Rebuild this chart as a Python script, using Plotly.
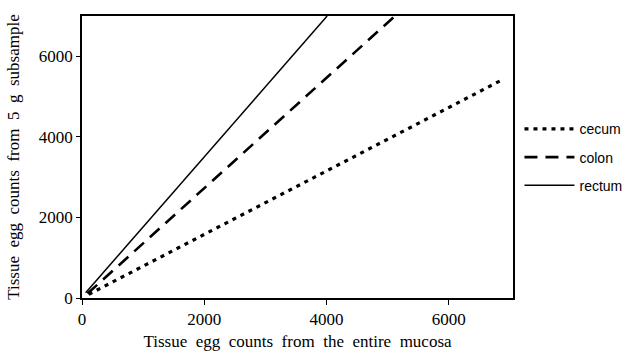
import plotly.graph_objects as go

series_names = ["cecum", "colon", "rectum"]
cecum_x = [110, 6840]
cecum_y = [90, 5390]
colon_x = [90, 5120]
colon_y = [110, 7000]
rectum_x = [60, 4010]
rectum_y = [130, 7000]

x_ticks = [0, 2000, 4000, 6000]
y_ticks = [0, 2000, 4000, 6000]

fig = go.Figure()
styles = {
    "cecum": dict(dash="4px,5px", width=3.2),
    "colon": dict(dash="13px,8px", width=2.6),
    "rectum": dict(dash="solid", width=1.5),
}
data = {"cecum": (cecum_x, cecum_y), "colon": (colon_x, colon_y), "rectum": (rectum_x, rectum_y)}
for name in series_names:
    xs, ys = data[name]
    fig.add_trace(go.Scatter(
        x=xs, y=ys, mode="lines", name=name, legendgroup=name,
        line=dict(color="black", **styles[name]),
    ))

serif = "Liberation Serif, Times New Roman, serif"
fig.update_layout(
    width=627, height=351,
    margin=dict(l=82, r=114, t=16, b=53, autoexpand=False),
    paper_bgcolor="white", plot_bgcolor="white",
    showlegend=True,
    legend=dict(
        x=1.015, y=0.655, xanchor="left", yanchor="top",
        font=dict(family="Liberation Sans, Arial, sans-serif", size=14, color="black"),
        tracegroupgap=7, itemwidth=50, bgcolor="rgba(0,0,0,0)",
    ),
    xaxis=dict(
        range=[0, 7050], tickvals=x_ticks, ticktext=[str(v) for v in x_ticks],
        showgrid=False, zeroline=False, showline=True, linecolor="black", linewidth=1.5,
        mirror=True, ticks="outside", ticklen=5, tickcolor="black", tickwidth=1.2,
        tickfont=dict(family=serif, size=17, color="black"), automargin=False,
        title=dict(text="Tissue\u00a0 egg\u00a0 counts\u00a0 from\u00a0 the\u00a0 entire\u00a0 mucosa",
                   font=dict(family=serif, size=17, color="black")),
    ),
    yaxis=dict(
        range=[0, 7000], tickvals=y_ticks, ticktext=[str(v) for v in y_ticks],
        showgrid=False, zeroline=False, showline=True, linecolor="black", linewidth=1.5,
        mirror=True, ticks="outside", ticklen=4, tickcolor="black", tickwidth=1.2,
        tickfont=dict(family=serif, size=17, color="black"), automargin=False,
        title=dict(text="Tissue\u00a0 egg\u00a0 counts\u00a0 from\u00a0 5\u00a0 g\u00a0 subsample",
                   font=dict(family=serif, size=17, color="black")),
    ),
)

fig.write_html("out.html", config={"displayModeBar": False},
               post_script="document.body.style.margin='0';")
